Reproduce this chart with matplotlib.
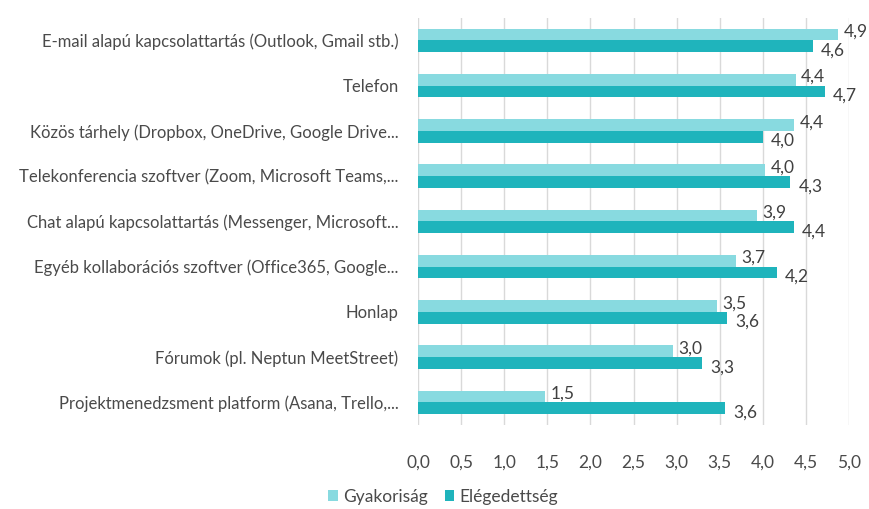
import numpy as np
import matplotlib
matplotlib.use('Agg')
import matplotlib.pyplot as plt

plt.rcParams['font.family'] = ['Lato', 'DejaVu Sans']

# Categories, top to bottom
categories = [
    'E-mail alapú kapcsolattartás (Outlook, Gmail stb.)',
    'Telefon',
    'Közös tárhely (Dropbox, OneDrive, Google Drive...',
    'Telekonferencia szoftver (Zoom, Microsoft Teams,...',
    'Chat alapú kapcsolattartás (Messenger, Microsoft...',
    'Egyéb kollaborációs szoftver (Office365, Google...',
    'Honlap',
    'Fórumok (pl. Neptun MeetStreet)',
    'Projektmenedzsment platform (Asana, Trello,...',
]
gyakorisag = [4.87, 4.38, 4.36, 4.03, 3.93, 3.69, 3.47, 2.96, 1.47]
elegedettseg = [4.58, 4.72, 4.00, 4.32, 4.36, 4.16, 3.58, 3.30, 3.56]

series_names = ['Gyakoriság', 'Elégedettség']
colors = ['#88DAE0', '#1FB4BC']
text_color = '#4A4A4A'
fs = 12.5

fig = plt.figure(figsize=(8.69, 5.09), dpi=100)
ax = fig.add_axes([0.481, 0.165, 0.496, 0.80])

y = np.arange(len(categories))
h = 0.26
bars1 = ax.barh(y - h / 2, gyakorisag, height=h, color=colors[0], label=series_names[0], zorder=3)
bars2 = ax.barh(y + h / 2, elegedettseg, height=h, color=colors[1], label=series_names[1], zorder=3)

for b, v in zip(bars1, gyakorisag):
    ax.annotate(f'{v:.1f}'.replace('.', ','), (v, b.get_y() + b.get_height() / 2),
                xytext=(4, 2), textcoords='offset points', ha='left', va='center',
                fontsize=fs, color='#404040')
for b, v in zip(bars2, elegedettseg):
    ax.annotate(f'{v:.1f}'.replace('.', ','), (v, b.get_y() + b.get_height() / 2),
                xytext=(6, -3), textcoords='offset points', ha='left', va='center',
                fontsize=fs, color='#404040')

ax.set_xlim(0, 5)
ax.set_ylim(len(categories) - 0.5, -0.5)
ticks = np.arange(0, 5.01, 0.5)
ax.set_xticks(ticks)
ax.set_xticklabels([f'{t:.1f}'.replace('.', ',') for t in ticks])
ax.set_yticks(y)
ax.set_yticklabels(categories)
ax.tick_params(axis='x', length=0, pad=21, labelsize=fs, labelcolor=text_color)
ax.tick_params(axis='y', length=0, pad=14, labelsize=12, labelcolor=text_color)
ax.grid(axis='x', color='#D9D9D9', linewidth=1, zorder=0)
for s in ax.spines.values():
    s.set_visible(False)

fig.legend(loc='lower center', bbox_to_anchor=(0.51, -0.022), ncol=2, frameon=False,
           fontsize=fs, labelcolor=text_color, handlelength=0.55, handleheight=0.55,
           handletextpad=0.3, columnspacing=1.0)

fig.savefig('out.png', dpi=100)
